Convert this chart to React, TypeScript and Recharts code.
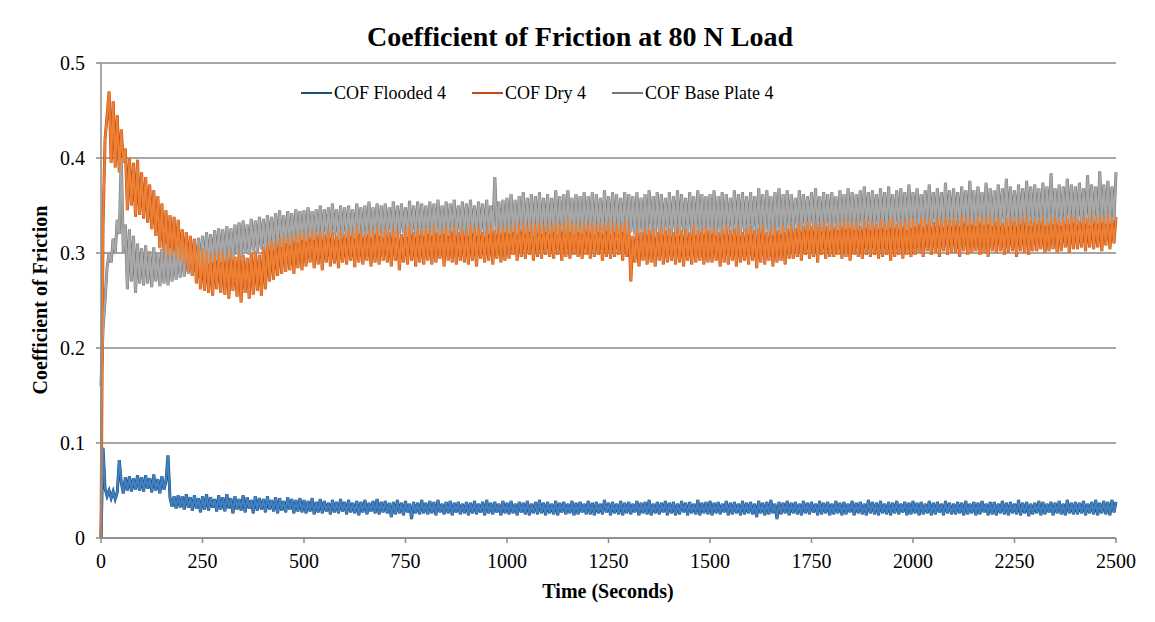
import { LineChart, Line, XAxis, YAxis, CartesianGrid } from 'recharts';

// sampling grid of the test rig: one reading every 5 s, 0..2500 s
const SAMPLE_STEP = 5;
const SAMPLE_COUNT = 501;

const X_TICKS = [0, 250, 500, 750, 1000, 1250, 1500, 1750, 2000, 2250, 2500];
const Y_TICKS = [0, 0.1, 0.2, 0.3, 0.4, 0.5];

// COF values in thousandths, one row = 100 s
const FLOODED = [
    0, 95, 52, 44, 50, 42, 49, 41, 48, 82, 58, 47, 64, 50, 65, 49, 63, 51, 66, 50,
    64, 49, 66, 52, 63, 48, 67, 50, 62, 47, 65, 51, 60, 87, 42, 33, 44, 31, 45, 32,
    44, 30, 46, 32, 43, 29, 45, 31, 42, 27, 44, 30, 46, 29, 43, 32, 41, 28, 45, 30,
    43, 28, 46, 31, 42, 26, 44, 30, 41, 29, 45, 27, 43, 31, 40, 26, 44, 29, 42, 30,
    41, 27, 44, 30, 40, 28, 43, 26, 42, 29, 39, 27, 43, 30, 41, 26, 40, 28, 42, 27,
    40, 26, 39, 28, 42, 25, 38, 27, 41, 26, 39, 28, 37, 25, 40, 27, 38, 26, 41, 28,
    38, 25, 40, 27, 37, 26, 39, 24, 38, 27, 40, 25, 37, 28, 39, 26, 41, 25, 38, 27,
    39, 26, 37, 22, 38, 25, 40, 26, 37, 24, 39, 27, 36, 20, 38, 26, 37, 25, 40, 26,
    37, 25, 39, 26, 38, 24, 40, 27, 36, 25, 38, 26, 39, 24, 37, 27, 38, 25, 36, 26,
    38, 24, 37, 26, 39, 25, 36, 27, 38, 24, 40, 26, 37, 25, 38, 27, 36, 24, 39, 26,
    37, 25, 39, 26, 36, 24, 38, 27, 37, 25, 39, 24, 36, 26, 38, 25, 40, 26, 37, 24,
    38, 26, 36, 25, 39, 24, 37, 27, 38, 25, 36, 26, 39, 24, 37, 25, 38, 27, 36, 25,
    39, 25, 37, 24, 38, 26, 36, 25, 40, 27, 37, 24, 38, 26, 36, 25, 39, 24, 37, 26,
    38, 25, 36, 27, 39, 24, 37, 26, 38, 25, 40, 24, 36, 26, 38, 25, 37, 27, 39, 24,
    37, 26, 38, 24, 36, 25, 39, 27, 37, 24, 38, 26, 36, 25, 40, 24, 37, 26, 38, 25,
    39, 24, 37, 26, 38, 25, 36, 27, 39, 24, 37, 25, 38, 26, 36, 24, 39, 25, 37, 26,
    38, 25, 36, 22, 39, 26, 37, 24, 38, 25, 40, 26, 36, 20, 38, 25, 37, 26, 39, 24,
    37, 26, 38, 25, 36, 24, 39, 26, 37, 25, 38, 27, 36, 24, 39, 25, 37, 26, 38, 24,
    36, 25, 39, 26, 37, 24, 38, 25, 36, 27, 39, 24, 37, 26, 38, 25, 36, 24, 40, 26,
    38, 25, 37, 24, 39, 26, 36, 25, 38, 24, 37, 26, 39, 25, 36, 27, 38, 24, 37, 25,
    39, 26, 37, 24, 38, 25, 36, 26, 39, 24, 37, 25, 38, 27, 36, 24, 39, 26, 37, 25,
    36, 25, 38, 26, 37, 24, 39, 25, 36, 26, 38, 24, 37, 25, 39, 27, 36, 24, 38, 25,
    38, 24, 36, 26, 39, 25, 37, 24, 38, 26, 36, 25, 40, 24, 37, 26, 38, 23, 36, 25,
    37, 26, 39, 24, 38, 25, 36, 27, 38, 24, 37, 26, 39, 25, 36, 24, 40, 26, 37, 25,
    38, 25, 37, 26, 39, 24, 36, 26, 38, 25, 40, 24, 37, 26, 39, 25, 38, 24, 40, 27,
    38
];

const DRY = [
    0, 330, 420, 445, 470, 395, 460, 390, 445, 385, 430, 395, 410, 345, 400, 350, 395, 338, 398, 340,
    385, 336, 380, 332, 372, 325, 366, 318, 360, 305, 352, 300, 345, 296, 340, 298, 338, 294, 335, 292,
    325, 288, 322, 280, 318, 276, 315, 268, 308, 262, 305, 260, 302, 258, 300, 255, 298, 262, 304, 258,
    300, 256, 298, 252, 302, 260, 296, 254, 300, 248, 298, 258, 295, 252, 300, 256, 302, 260, 298, 255,
    306, 262, 310, 270, 314, 272, 312, 276, 316, 278, 318, 280, 315, 282, 320, 278, 318, 284, 322, 282,
    322, 286, 318, 290, 325, 284, 320, 288, 324, 282, 320, 290, 326, 286, 322, 289, 318, 284, 325, 290,
    320, 288, 326, 292, 322, 285, 328, 290, 324, 288, 320, 292, 326, 286, 322, 290, 328, 288, 324, 292,
    326, 290, 322, 286, 328, 292, 324, 282, 320, 290, 326, 288, 330, 292, 322, 286, 326, 290, 324, 288,
    328, 292, 324, 288, 330, 290, 322, 294, 326, 286, 328, 292, 324, 290, 330, 288, 322, 292, 326, 290,
    324, 288, 330, 292, 326, 286, 328, 294, 322, 290, 326, 292, 330, 288, 324, 294, 328, 290, 326, 292,
    330, 294, 326, 298, 332, 292, 328, 296, 334, 294, 328, 298, 332, 292, 330, 296, 334, 294, 328, 298,
    332, 296, 328, 294, 334, 298, 330, 292, 332, 296, 336, 294, 330, 298, 332, 296, 328, 294, 334, 298,
    330, 294, 334, 296, 328, 298, 332, 292, 330, 296, 334, 294, 328, 296, 332, 298, 330, 292, 334, 296,
    328, 270, 318, 290, 326, 286, 322, 292, 328, 288, 324, 290, 326, 286, 322, 292, 328, 288, 324, 290,
    326, 292, 322, 288, 328, 290, 324, 286, 326, 292, 322, 288, 330, 290, 324, 292, 326, 288, 328, 290,
    324, 290, 328, 292, 322, 286, 326, 290, 330, 288, 324, 292, 326, 286, 328, 290, 322, 292, 326, 288,
    328, 292, 324, 284, 326, 290, 330, 288, 322, 292, 326, 286, 328, 290, 324, 292, 330, 288, 326, 294,
    330, 294, 326, 296, 332, 292, 328, 298, 334, 294, 328, 296, 332, 290, 330, 298, 334, 294, 328, 296,
    332, 296, 328, 298, 334, 294, 330, 296, 336, 292, 330, 298, 334, 296, 328, 294, 336, 298, 330, 296,
    334, 298, 330, 294, 336, 296, 332, 298, 334, 292, 338, 296, 330, 298, 336, 294, 332, 298, 336, 296,
    336, 298, 332, 300, 338, 296, 334, 302, 336, 298, 332, 300, 338, 296, 334, 302, 338, 298, 334, 300,
    338, 300, 334, 296, 340, 302, 336, 298, 338, 300, 334, 302, 340, 298, 336, 300, 338, 296, 340, 302,
    334, 300, 338, 302, 332, 298, 336, 300, 338, 302, 334, 296, 338, 302, 336, 300, 340, 298, 334, 302,
    336, 302, 334, 304, 338, 300, 332, 302, 336, 304, 340, 300, 334, 302, 338, 306, 336, 300, 340, 304,
    338, 304, 334, 306, 340, 302, 336, 306, 342, 304, 336, 306, 340, 302, 338, 308, 342, 304, 336, 310,
    338
];

const BASE_PLATE = [
    160, 220, 250, 285, 300, 290, 315, 300, 335, 320, 400, 300, 330, 262, 325, 270, 318, 258, 310, 268,
    305, 266, 308, 268, 302, 264, 306, 270, 300, 265, 304, 268, 310, 266, 305, 270, 302, 272, 308, 274,
    310, 275, 312, 278, 308, 276, 314, 280, 316, 284, 318, 286, 322, 288, 320, 290, 324, 292, 326, 290,
    325, 292, 328, 295, 326, 293, 330, 298, 332, 296, 334, 300, 330, 298, 336, 302, 334, 300, 338, 304,
    336, 302, 340, 306, 338, 304, 342, 308, 345, 306, 340, 310, 344, 308, 342, 312, 346, 310, 344, 314,
    345, 312, 348, 316, 344, 314, 346, 318, 350, 315, 346, 318, 348, 316, 352, 318, 346, 314, 350, 318,
    348, 316, 350, 318, 346, 315, 352, 320, 348, 317, 350, 319, 354, 316, 348, 320, 352, 318, 350, 316,
    352, 318, 348, 320, 354, 316, 350, 319, 352, 321, 348, 317, 355, 320, 350, 318, 354, 320, 352, 318,
    350, 320, 354, 318, 352, 321, 356, 319, 350, 320, 354, 318, 352, 322, 356, 319, 350, 321, 354, 320,
    352, 318, 356, 321, 350, 319, 354, 322, 352, 318, 356, 320, 350, 322, 380, 324, 354, 320, 356, 322,
    358, 320, 362, 322, 356, 319, 360, 323, 364, 320, 358, 322, 362, 318, 360, 321, 364, 320, 358, 322,
    362, 320, 358, 322, 366, 319, 360, 323, 362, 320, 366, 322, 358, 319, 362, 322, 360, 320, 364, 323,
    360, 321, 364, 319, 362, 322, 358, 320, 366, 323, 360, 319, 364, 322, 362, 320, 358, 322, 364, 320,
    362, 322, 360, 319, 364, 321, 358, 322, 362, 320, 366, 323, 360, 319, 364, 322, 362, 320, 358, 322,
    364, 320, 360, 322, 366, 319, 362, 323, 358, 320, 364, 322, 360, 319, 366, 322, 362, 320, 360, 323,
    362, 321, 366, 319, 360, 322, 364, 320, 362, 323, 358, 320, 366, 322, 362, 319, 364, 322, 360, 320,
    364, 322, 360, 320, 368, 323, 362, 320, 366, 322, 360, 319, 364, 323, 368, 320, 362, 322, 366, 324,
    362, 324, 358, 326, 366, 323, 362, 325, 360, 327, 364, 324, 368, 326, 360, 323, 364, 326, 362, 324,
    364, 326, 360, 324, 366, 327, 362, 325, 368, 326, 364, 324, 362, 327, 366, 325, 370, 326, 364, 324,
    366, 327, 362, 325, 368, 326, 364, 324, 370, 327, 362, 326, 366, 325, 368, 327, 364, 324, 372, 326,
    364, 328, 368, 330, 362, 327, 366, 330, 372, 328, 364, 331, 368, 329, 364, 327, 374, 330, 366, 328,
    368, 330, 364, 328, 370, 331, 366, 329, 376, 330, 366, 328, 370, 331, 364, 329, 374, 330, 368, 328,
    366, 331, 372, 329, 368, 330, 378, 328, 370, 331, 366, 329, 372, 330, 368, 332, 376, 329, 370, 331,
    372, 330, 368, 332, 374, 329, 370, 331, 384, 330, 368, 332, 372, 329, 370, 331, 378, 330, 372, 332,
    370, 330, 374, 332, 368, 331, 382, 329, 372, 332, 370, 330, 386, 332, 372, 330, 376, 331, 370, 334,
    385
];

const SERIES = [
    { key: 'flooded', name: 'COF Flooded 4', dark: '#1F4E79', light: '#3F7FC2' },
    { key: 'base', name: 'COF Base Plate 4', dark: '#767676', light: '#A8A8A8' },
    { key: 'dry', name: 'COF Dry 4', dark: '#C24A12', light: '#EE8033' }
];

const LEGEND_ORDER = ['flooded', 'dry', 'base'];

const FONT = '"Liberation Serif", "Times New Roman", serif';
const GRID = '#8A8A8A';

const rows = Array.from({ length: SAMPLE_COUNT }, (_, i) => ({
    t: i * SAMPLE_STEP,
    flooded: FLOODED[i] / 1000,
    dry: DRY[i] / 1000,
    base: BASE_PLATE[i] / 1000
}));

export default function App() {
    return (
        <div style={{ position: 'relative', width: 1155, height: 622, margin: '-8px 0 0 -8px', overflow: 'hidden', background: '#fff', fontFamily: FONT }}>
            {/* chart frame, only left and top edges are inside the crop */}
            <div style={{
                position: 'absolute', left: 5, top: 6, width: 1160, height: 630,
                borderLeft: '1.5px solid #7f7f7f', borderTop: '1.5px solid #7f7f7f'
            }} />

            <div style={{ position: 'absolute', left: 0, top: 0 }}>
                <LineChart width={1155} height={622} data={rows} margin={{ top: 63, right: 39, left: 0, bottom: 0 }}>
                    <CartesianGrid vertical={false} stroke={GRID} strokeWidth={1.3} />
                    <XAxis
                        dataKey="t"
                        type="number"
                        domain={[0, 2500]}
                        ticks={X_TICKS}
                        height={84}
                        tick={{ fill: '#000', fontSize: 20, fontFamily: FONT }}
                        tickSize={5}
                        tickMargin={11}
                        axisLine={{ stroke: GRID, strokeWidth: 1.5 }}
                        tickLine={{ stroke: GRID, strokeWidth: 1.5 }}
                    />
                    <YAxis
                        type="number"
                        domain={[0, 0.5]}
                        ticks={Y_TICKS}
                        width={101}
                        tick={{ fill: '#000', fontSize: 20, fontFamily: FONT }}
                        tickSize={5}
                        tickMargin={11}
                        axisLine={{ stroke: GRID, strokeWidth: 1.5 }}
                        tickLine={{ stroke: GRID, strokeWidth: 1.5 }}
                    />
                    {/* dark edge pass first, lighter body on top, like the shaded Excel lines */}
                    {SERIES.map(s => (
                        <Line
                            key={s.key + '-edge'}
                            dataKey={s.key}
                            stroke={s.dark}
                            strokeWidth={3}
                            dot={false}
                            activeDot={false}
                            isAnimationActive={false}
                        />
                    )).concat(SERIES.map(s => (
                        <Line
                            key={s.key + '-body'}
                            dataKey={s.key}
                            stroke={s.light}
                            strokeWidth={2}
                            dot={false}
                            activeDot={false}
                            isAnimationActive={false}
                        />
                    )))}
                </LineChart>
            </div>

            {/* title */}
            <div style={{ position: 'absolute', left: 5, width: 1150, top: 20, textAlign: 'center', fontSize: 28, fontWeight: 'bold', lineHeight: '34px' }}>
                Coefficient of Friction at 80 N Load
            </div>

            {/* legend */}
            <div style={{ position: 'absolute', left: 301, top: 81, display: 'flex', alignItems: 'center', fontSize: 18, lineHeight: '24px' }}>
                {LEGEND_ORDER.map(k => {
                    const s = SERIES.find(x => x.key === k)!;
                    return (
                        <div key={k} style={{ display: 'flex', alignItems: 'center', marginRight: 26 }}>
                            <div style={{ width: 31, height: 2, background: s.dark, marginRight: 2 }} />
                            <span>{s.name}</span>
                        </div>
                    );
                })}
            </div>

            {/* axis titles */}
            <div style={{
                position: 'absolute', left: 40, top: 300, transform: 'translate(-50%, -50%) rotate(-90deg)',
                whiteSpace: 'nowrap', fontSize: 20, fontWeight: 'bold'
            }}>
                Coefficient of Friction
            </div>
            <div style={{
                position: 'absolute', left: 608, top: 591, transform: 'translate(-50%, -50%)',
                whiteSpace: 'nowrap', fontSize: 20, fontWeight: 'bold'
            }}>
                Time (Seconds)
            </div>
        </div>
    );
}
